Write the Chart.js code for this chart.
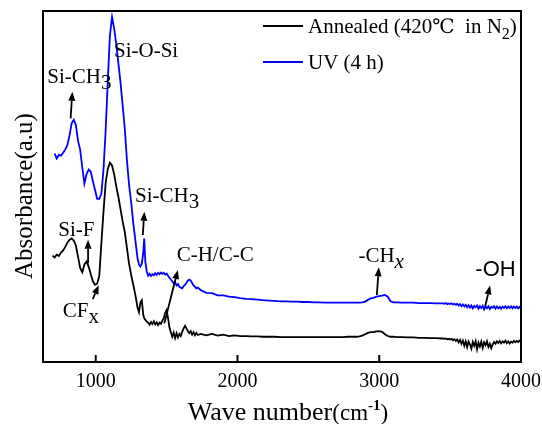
<!DOCTYPE html>
<html><head><meta charset="utf-8">
<script src="https://cdn.jsdelivr.net/npm/chart.js@4"></script>
<style>html,body{margin:0;padding:0;background:#fff}#wrap{width:542px;height:424px}</style>
</head><body><div id="wrap"><canvas id="c" width="542" height="424"></canvas></div>
<script>
// Wave numbers (cm-1)
const wavenumbers = [
 695,710,725,740,755,770,785,800,815,830,845,860,875,890,905,920,935,950,965,980,995,1010,1025,1040,1055,1070,1085,1100,1115,1130,1145,1160,1175,1190,1205,1220,1235,1250,1265,1280,1295,1305,1315,1325,1335,1342,1350,1360,
 1370,1380,1390,1400,1410,1420,1430,1440,1450,1460,1470,1480,1490,1500,1510,1520,1530,1540,1550,1560,1570,1580,1590,1600,1610,1620,1630,1640,1650,1660,1670,1680,1690,1700,1710,1720,
 1740,1780,1820,1860,1900,1940,1980,2020,2060,2100,2140,2180,2220,2260,2300,2340,2380,2420,2460,2500,2540,2580,2620,2660,2700,2740,2780,
 2820,2840,2860,2880,2900,2920,2940,2960,2980,3000,3020,3040,3060,3080,3100,
 3120,3160,3200,3240,3280,3320,3360,3400,3440,
 3450,3460,3470,3480,3490,3500,3510,3520,3530,3540,3550,3560,3570,3580,3590,3600,3610,3620,3630,3640,3650,3660,3670,3680,3690,3700,3710,3720,3730,3740,3750,3760,3770,3780,3790,3800,3810,3820,3830,3840,3850,3860,3870,3880,3890,3900,3910,3920,3930,3940,3950,3960,3970,3980,3990,4000
];
// Annealed (420 °C in N2) absorbance (a.u.)
const annealed = [
 30.3,29.8,30.6,30.2,31.2,31.8,32.8,34.0,34.8,35.2,34.6,33.2,30.0,26.8,25.6,27.8,28.6,27.2,25.0,23.0,22.0,22.3,24.5,34.0,43.0,51.0,55.0,56.8,56.0,53.5,50.0,47.0,43.5,40.0,37.0,32.5,28.0,24.8,22.0,19.0,15.5,14.2,17.0,17.6,13.5,12.5,12.0,11.5,
 11.2,10.6,11.4,10.8,11.6,10.7,11.3,10.5,11.2,10.9,11.8,12.5,14.0,14.8,12.5,9.8,8.5,7.2,8.4,6.8,8.2,7.0,8.0,7.4,8.6,9.6,10.3,9.6,8.8,8.2,8.8,7.8,8.5,7.6,8.3,7.7,
 8.0,7.6,8.0,7.5,7.8,7.4,7.6,7.4,7.4,7.3,7.3,7.2,7.2,7.2,7.1,7.1,7.1,7.1,7.1,7.1,7.1,7.1,7.1,7.1,7.1,7.1,7.2,
 7.2,7.2,7.3,7.5,7.9,8.3,8.5,8.5,8.7,8.8,8.6,7.9,7.4,7.2,7.2,
 7.1,7.1,7.0,7.0,6.9,6.9,6.8,6.8,6.7,
 6.7,6.6,6.7,6.5,6.6,6.4,6.6,6.2,6.5,6.0,6.4,5.6,6.3,5.2,6.1,4.6,5.9,4.2,5.8,5.0,3.8,5.7,4.6,5.9,3.6,5.5,4.4,5.8,4.0,5.6,4.8,5.9,4.3,5.2,3.9,5.0,5.7,5.2,5.9,5.4,6.0,5.3,5.9,5.5,6.1,5.4,5.9,5.3,5.8,5.5,6.0,5.6,6.0,5.7,6.1,5.9
];
// UV (4 h) absorbance (a.u.)
const uv = [
 null,59.4,58.0,59.0,58.8,59.6,60.5,61.8,64.5,68.0,69.0,67.5,63.0,60.5,55.5,50.8,53.5,54.8,54.2,51.5,49.0,46.5,46.5,48.0,55.0,66.0,80.0,93.0,98.3,95.0,90.5,85.0,79.5,73.0,66.5,57.5,50.5,45.5,39.5,34.5,29.5,27.8,27.2,28.0,31.0,35.2,28.5,25.8,
 24.6,25.1,24.5,25.0,24.7,25.3,24.8,25.4,25.0,25.5,25.1,25.4,24.9,25.2,24.6,24.0,23.5,23.0,22.4,22.8,21.8,22.2,21.4,21.2,21.0,21.6,22.0,22.6,23.2,23.5,23.2,22.5,21.8,21.4,21.0,21.2,
 20.5,19.7,19.6,19.0,19.0,18.6,18.5,18.2,18.0,17.9,17.8,17.6,17.5,17.4,17.3,17.3,17.2,17.2,17.1,17.1,17.0,17.0,16.9,16.9,16.9,16.9,16.9,
 16.9,16.9,16.9,17.0,17.2,17.7,18.1,18.3,18.6,18.8,18.9,19.1,18.6,17.3,17.0,
 17.0,16.9,16.9,16.9,16.8,16.8,16.8,16.7,16.7,
 16.7,16.6,16.8,16.5,16.7,16.5,16.7,16.4,16.6,16.3,16.6,16.1,16.5,15.9,16.4,15.8,16.3,15.6,16.2,15.5,16.1,15.3,16.0,15.6,16.1,15.2,15.9,15.4,16.0,15.0,15.8,15.3,15.9,15.1,15.7,15.5,15.9,15.2,15.8,15.3,15.7,15.2,15.8,15.4,15.9,15.3,15.8,15.4,15.9,15.3,15.8,15.4,15.8,15.3,15.7,15.5
];
const xTicks = [1000, 2000, 3000, 4000];
const seriesLabels = ['Annealed (420℃ in N₂)', 'UV (4 h)'];
const seriesColors = ['#000000', '#0000ff'];

// Peak assignments, anchored in data coordinates [wave number, absorbance]
const labels = [
 {parts:[{t:'Si-CH'},{t:'3',sub:true}], at:[658,79.4]},
 {parts:[{t:'Si-O-Si'}], at:[1129,87]},
 {parts:[{t:'Si-CH'},{t:'3',sub:true}], at:[1277,45.7]},
 {parts:[{t:'Si-F'}], at:[736,35.9]},
 {parts:[{t:'CF'},{t:'x',sub:true}], at:[767,12.9]},
 {parts:[{t:'C-H/C-C'}], at:[1571,28.9]},
 {parts:[{t:'-CH'},{t:'x',sub:true,italic:true}], at:[2853,28.6]},
 {parts:[{t:'-OH'}], at:[3678,24.5], sans:true},
];
const arrows = [
 {from:[823,69.4], to:[835,77.0]},
 {from:[1332,36.2], to:[1343,42.8]},
 {from:[946,28.1], to:[946,34.8]},
 {from:[979,17.9], to:[1021,21.9]},
 {from:[1484,11.0], to:[1579,26.2]},
 {from:[2983,19.1], to:[2997,27.0]},
 {from:[3747,15.8], to:[3782,21.8]},
];

const SERIF = '"Liberation Serif","Times New Roman",serif';
const SANS = '"Liberation Sans",Arial,sans-serif';

function drawRich(ctx, parts, x, y, opts) {
  const base = opts.size, fam = opts.family;
  const fontOf = p => (p.bold?'bold ':'') + (p.italic?'italic ':'') + (p.size || (p.sub ? (opts.subSize||base) : base)) + 'px ' + (p.family || fam);
  let w = 0;
  parts.forEach(p => { ctx.font = fontOf(p); p._w = ctx.measureText(p.t).width; w += p._w; });
  let cx = opts.align === 'center' ? x - w/2 : x;
  ctx.textAlign = 'left'; ctx.textBaseline = 'alphabetic';
  parts.forEach(p => {
    ctx.font = fontOf(p);
    let dy = 0;
    if (p.sub) dy = opts.subOff || 6;
    if (p.sup) dy = -(p.supOff || 10);
    ctx.fillText(p.t, cx, y + dy);
    cx += p._w;
  });
}

function arrow(ctx, x1, y1, x2, y2) {
  const ang = Math.atan2(y2-y1, x2-x1), L = 9, W = 3.5;
  const bx = x2 - L*Math.cos(ang), by = y2 - L*Math.sin(ang);
  ctx.beginPath(); ctx.moveTo(x1,y1); ctx.lineTo(bx,by); ctx.stroke();
  ctx.beginPath();
  ctx.moveTo(x2,y2);
  ctx.lineTo(bx + W*Math.sin(ang), by - W*Math.cos(ang));
  ctx.lineTo(bx - W*Math.sin(ang), by + W*Math.cos(ang));
  ctx.closePath(); ctx.fill();
}

const decor = {
  id:'decor',
  afterDraw(chart) {
    const ctx = chart.ctx, a = chart.chartArea, xs = chart.scales.x, ys = chart.scales.y;
    ctx.save();
    ctx.strokeStyle = '#000'; ctx.fillStyle = '#000'; ctx.lineWidth = 2;
    ctx.strokeRect(a.left, a.top, a.right - a.left, a.bottom - a.top);
    xTicks.forEach(v => {
      const px = xs.getPixelForValue(v);
      ctx.beginPath(); ctx.moveTo(px, a.bottom); ctx.lineTo(px, a.bottom - 7); ctx.stroke();
    });
    // axis titles
    drawRich(ctx, [{t:'Wave number', size:26},{t:'(cm', size:23},{t:'-1', size:15, bold:true, sup:true, supOff:10},{t:')', size:23}], 288, 420, {size:26, family:SERIF, align:'center'});
    ctx.save();
    ctx.translate(32, 196); ctx.rotate(-Math.PI/2);
    ctx.font = '25px ' + SERIF; ctx.textAlign = 'center'; ctx.textBaseline = 'alphabetic';
    ctx.fillText('Absorbance(a.u)', 0, 0);
    ctx.restore();
    // legend
    const legendParts = [
      [{t:'Annealed (420'},{t:'℃', family:'"DejaVu Serif",serif', size:20},{t:'  in N'},{t:'2',sub:true},{t:')'}],
      [{t:seriesLabels[1]}]
    ];
    legendParts.forEach((parts, i) => {
      const y = a.top + 15 + i*36;
      ctx.strokeStyle = seriesColors[i]; ctx.lineWidth = 2;
      ctx.beginPath(); ctx.moveTo(263, y); ctx.lineTo(303, y); ctx.stroke();
      ctx.fillStyle = '#000';
      drawRich(ctx, parts, 308, y + 7, {size:21, family:SERIF, subSize:16, subOff:6});
    });
    // peak labels
    ctx.fillStyle = '#000'; ctx.strokeStyle = '#000'; ctx.lineWidth = 1.8;
    labels.forEach(l => {
      drawRich(ctx, l.parts, xs.getPixelForValue(l.at[0]), ys.getPixelForValue(l.at[1]),
        {size: l.sans ? 22 : 21, family: l.sans ? SANS : SERIF, subOff:6});
    });
    arrows.forEach(r => {
      arrow(ctx, xs.getPixelForValue(r.from[0]), ys.getPixelForValue(r.from[1]),
                 xs.getPixelForValue(r.to[0]), ys.getPixelForValue(r.to[1]));
    });
    ctx.restore();
  }
};

const mk = arr => wavenumbers.map((w, i) => ({x: w, y: arr[i]}));

new Chart(document.getElementById('c'), {
  type: 'line',
  data: {
    datasets: [
      {label: seriesLabels[0], data: mk(annealed), borderColor: seriesColors[0], borderWidth: 1.8, pointRadius: 0, tension: 0},
      {label: seriesLabels[1], data: mk(uv), borderColor: seriesColors[1], borderWidth: 1.8, pointRadius: 0, tension: 0}
    ]
  },
  options: {
    responsive: false, animation: false,
    layout: {padding: {left: 43, right: 21, top: 11, bottom: 0}},
    plugins: {legend: {display: false}, tooltip: {enabled: false}},
    scales: {
      x: {
        type: 'linear', min: 628, max: 4000,
        afterBuildTicks: ax => { ax.ticks = xTicks.map(v => ({value: v})); },
        afterFit: ax => { ax.height = 62; ax.paddingLeft = 0; ax.paddingRight = 0; },
        grid: {display: false, drawTicks: false},
        border: {display: false},
        ticks: {font: {family: SERIF, size: 20}, color: '#000', padding: 8, maxRotation: 0, autoSkip: false, callback: v => String(v)}
      },
      y: {display: false, min: 0, max: 100}
    }
  },
  plugins: [decor]
});
</script>
</body></html>
